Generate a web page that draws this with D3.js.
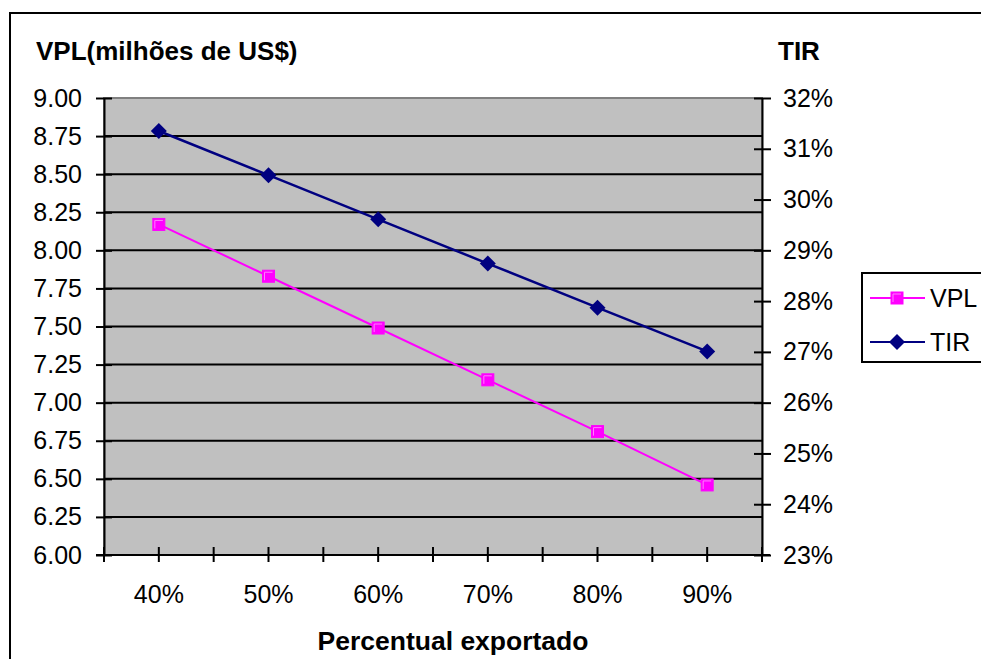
<!DOCTYPE html>
<html>
<head>
<meta charset="utf-8">
<script src="https://cdn.jsdelivr.net/npm/d3@7"></script>
<style>
  html, body { margin: 0; padding: 0; background: #fff; }
  svg { display: block; font-family: "Liberation Sans", Arial, sans-serif; }
</style>
</head>
<body>
<svg id="chart" width="981" height="659"></svg>
<script>
// Exported share scenarios
const categories = ["40%", "50%", "60%", "70%", "80%", "90%"];
// Net present value, millions of US$
const vplValues = [8.17, 7.83, 7.49, 7.15, 6.81, 6.46];
// Internal rate of return, %
const tirValues = [31.35, 30.48, 29.61, 28.74, 27.87, 27.01];
// Axis tick values
const leftTicks = [6.00, 6.25, 6.50, 6.75, 7.00, 7.25, 7.50, 7.75, 8.00, 8.25, 8.50, 8.75, 9.00];
const rightTicks = [23, 24, 25, 26, 27, 28, 29, 30, 31, 32];
const seriesNames = ["VPL", "TIR"];

const svg = d3.select("#chart");
const plot = { left: 104, right: 762, top: 98, bottom: 555 };

const x = d3.scaleBand().domain(categories).range([plot.left, plot.right]).padding(0);
const yL = d3.scaleLinear().domain([6, 9]).range([plot.bottom, plot.top]);
const yR = d3.scaleLinear().domain([23, 32]).range([plot.bottom, plot.top]);
const cx = c => x(c) + x.bandwidth() / 2;

// outer frame
svg.append("rect").attr("x", 10).attr("y", 13).attr("width", 990).attr("height", 700)
  .attr("fill", "none").attr("stroke", "#000").attr("stroke-width", 2);

// plot background
svg.append("rect")
  .attr("x", plot.left).attr("y", plot.top)
  .attr("width", plot.right - plot.left).attr("height", plot.bottom - plot.top)
  .attr("fill", "#c0c0c0").attr("stroke", "#808080").attr("stroke-width", 2);

// horizontal gridlines
svg.append("g").selectAll("line")
  .data(leftTicks.filter(t => t > 6 && t < 9))
  .join("line")
  .attr("x1", plot.left).attr("x2", plot.right)
  .attr("y1", d => yL(d)).attr("y2", d => yL(d))
  .attr("stroke", "#000").attr("stroke-width", 2);

// left axis
const leftAxis = d3.axisLeft(yL).tickValues(leftTicks).tickFormat(d3.format(".2f"))
  .tickSizeInner(8).tickSizeOuter(0).tickPadding(14);
const gL = svg.append("g").attr("transform", `translate(${plot.left},0)`).call(leftAxis);
gL.select(".domain").attr("stroke", "#000").attr("stroke-width", 2);
gL.selectAll(".tick line").attr("x2", 8).attr("x1", -8).attr("stroke", "#000").attr("stroke-width", 2);
gL.selectAll(".tick text").attr("x", -22).attr("font-size", 25).attr("fill", "#000");

// right axis
const rightAxis = d3.axisRight(yR).tickValues(rightTicks).tickFormat(d => d + "%")
  .tickSizeInner(8).tickSizeOuter(0);
const gR = svg.append("g").attr("transform", `translate(${plot.right},0)`).call(rightAxis);
gR.select(".domain").attr("stroke", "#000").attr("stroke-width", 2);
gR.selectAll(".tick line").attr("x1", -8).attr("x2", 9).attr("stroke", "#000").attr("stroke-width", 2);
gR.selectAll(".tick text").attr("x", 21).attr("font-size", 25).attr("fill", "#000");

// bottom axis: ticks at category edges and centres
const bottomAxis = d3.axisBottom(x).tickSize(0).tickPadding(30);
const gB = svg.append("g").attr("transform", `translate(0,${plot.bottom})`).call(bottomAxis);
gB.select(".domain").attr("d", `M${plot.left - 8},0H${plot.right + 8}`)
  .attr("stroke", "#000").attr("stroke-width", 2);
gB.selectAll(".tick text").attr("font-size", 25).attr("fill", "#000").attr("dy", "0.71em");
const tickXs = [];
categories.forEach(c => { tickXs.push(x(c)); tickXs.push(cx(c)); });
tickXs.push(plot.right);
gB.append("g").selectAll("line").data(tickXs).join("line")
  .attr("x1", d => d).attr("x2", d => d).attr("y1", -8).attr("y2", 7)
  .attr("stroke", "#000").attr("stroke-width", 2);

// series lines
const vplLine = d3.line().x((d, i) => cx(categories[i])).y(d => yL(d));
const tirLine = d3.line().x((d, i) => cx(categories[i])).y(d => yR(d));

svg.append("path").datum(vplValues).attr("d", vplLine)
  .attr("fill", "none").attr("stroke", "#ff00ff").attr("stroke-width", 2);
svg.append("path").datum(tirValues).attr("d", tirLine)
  .attr("fill", "none").attr("stroke", "#000080").attr("stroke-width", 2.5);

function squareMarker(sel, px, py) {
  sel.append("rect").attr("x", px - 6).attr("y", py - 6).attr("width", 12).attr("height", 12)
    .attr("fill", "#ff00ff").attr("stroke", "#ff00ff").attr("stroke-width", 1);
  sel.append("path").attr("d", `M${px - 4},${py + 4}V${py - 4}H${px + 4}`)
    .attr("fill", "none").attr("stroke", "#ff80ff").attr("stroke-width", 1);
}
function diamondMarker(sel, px, py) {
  sel.append("path").attr("d", `M${px},${py - 8}L${px + 8},${py}L${px},${py + 8}L${px - 8},${py}Z`)
    .attr("fill", "#000080");
}

const marks = svg.append("g");
vplValues.forEach((v, i) => squareMarker(marks, cx(categories[i]), yL(v)));
tirValues.forEach((v, i) => diamondMarker(marks, cx(categories[i]), yR(v)));

// titles
svg.append("text").attr("x", 36).attr("y", 60).attr("font-size", 26).attr("font-weight", "bold")
  .text("VPL(milhões de US$)");
svg.append("text").attr("x", 778).attr("y", 60).attr("font-size", 26).attr("font-weight", "bold")
  .text("TIR");
svg.append("text").attr("x", 453).attr("y", 650).attr("text-anchor", "middle")
  .attr("font-size", 26.5).attr("font-weight", "bold").text("Percentual exportado");

// legend
const lg = svg.append("g");
lg.append("rect").attr("x", 862).attr("y", 273).attr("width", 140).attr("height", 89)
  .attr("fill", "#fff").attr("stroke", "#000").attr("stroke-width", 2);
const legendRows = [298, 342];
seriesNames.forEach((name, i) => {
  const ly = legendRows[i];
  lg.append("line").attr("x1", 870).attr("x2", 925).attr("y1", ly).attr("y2", ly)
    .attr("stroke", i === 0 ? "#ff00ff" : "#000080").attr("stroke-width", 2);
  if (i === 0) squareMarker(lg, 897, ly); else diamondMarker(lg, 897, ly);
  lg.append("text").attr("x", 930).attr("y", ly + 9).attr("font-size", 25).text(name);
});
</script>
</body>
</html>
